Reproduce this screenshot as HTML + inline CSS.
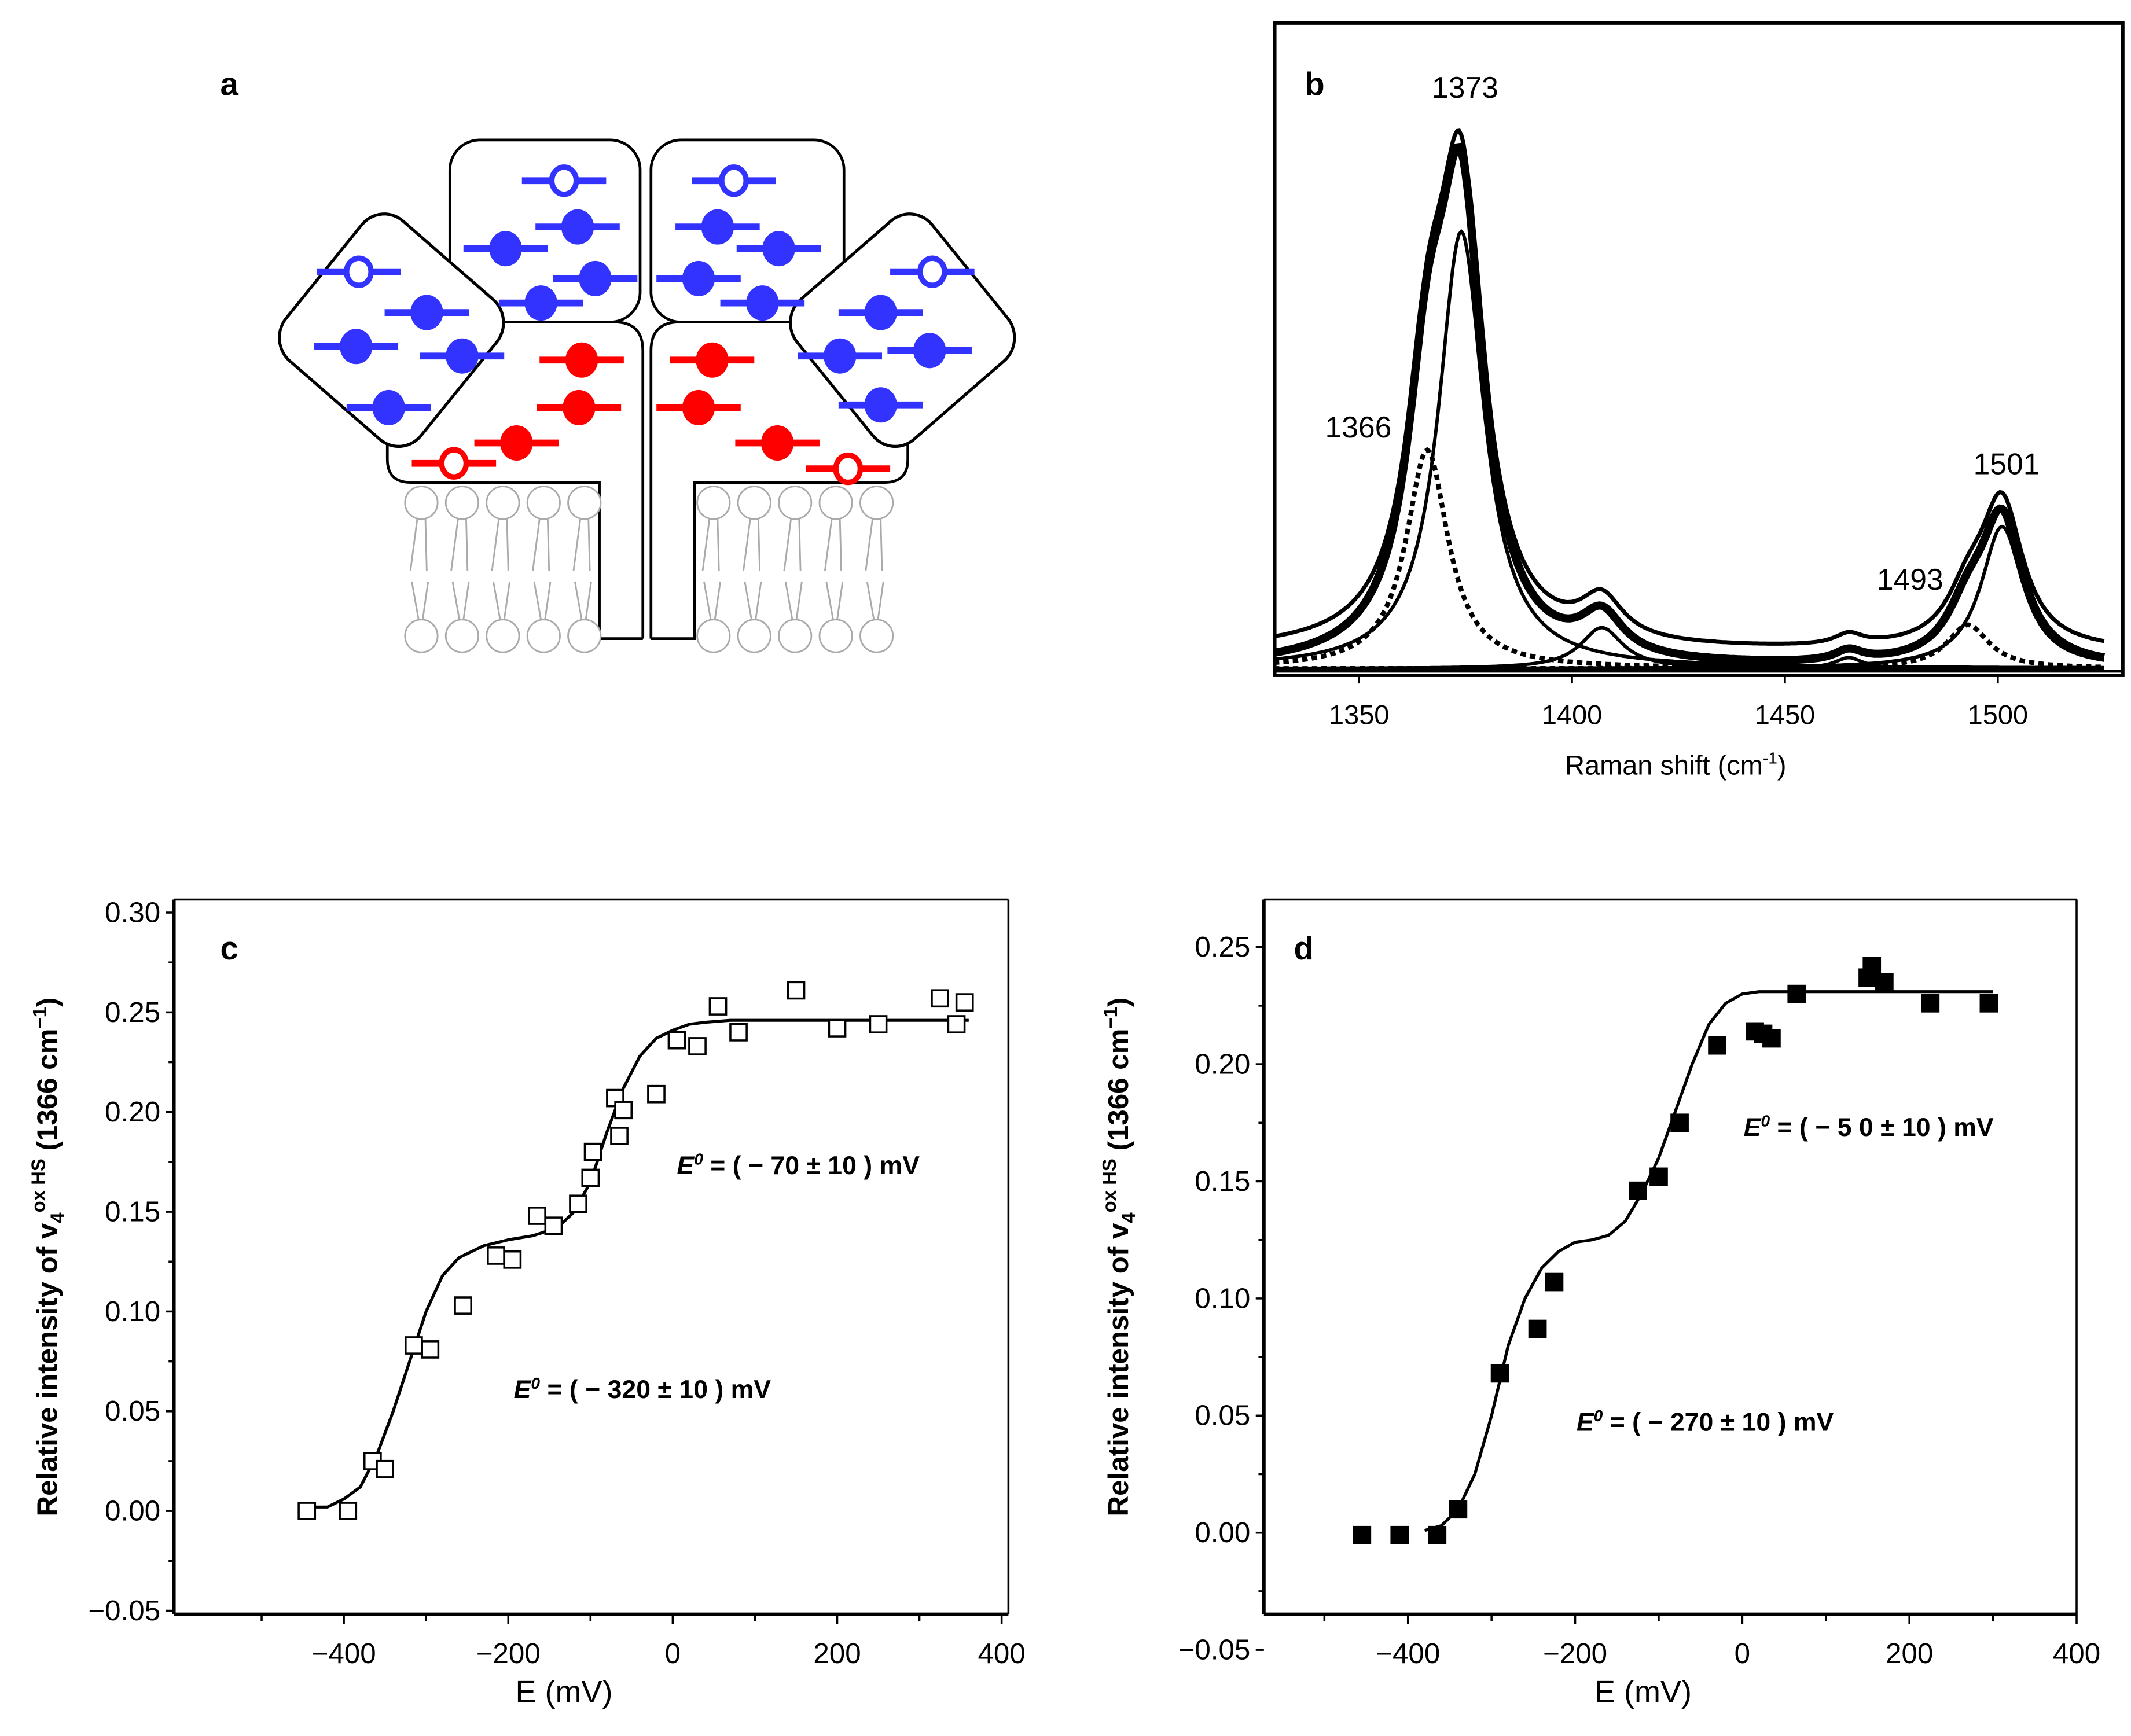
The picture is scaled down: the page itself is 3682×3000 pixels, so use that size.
<!DOCTYPE html>
<html><head><meta charset="utf-8"><style>
html,body{margin:0;padding:0;background:#fff}
svg{display:block}
text{font-family:"Liberation Sans",Arial,sans-serif}
</style></head><body>
<svg id="fig" width="3682" height="3000" viewBox="0 0 1568 1277.6" xmlns="http://www.w3.org/2000/svg">
<rect width="1568" height="1278" fill="#fff"/>
<g id="pa">
<text x="162" y="70" font-family="Liberation Serif" font-weight="bold" font-size="24">a</text>
<g fill="none" stroke="#000" stroke-width="2">
<path d="M473,470 L473,258 Q473,237 452,237 L376,237 M298,318 L285,318 L285,338 Q285,355 302,355 L441,355 L441,470 L473,470"/>
<path d="M479,470 L479,258 Q479,237 500,237 L576,237 M654,318 L668,318 L668,338 Q668,355 651,355 L511,355 L511,470 L479,470"/>
<rect x="331" y="103" width="140" height="134" rx="22" fill="#fff"/>
<rect x="479" y="103" width="142" height="134" rx="22" fill="#fff"/>
<rect x="-60" y="-60" width="120" height="120" rx="20" transform="translate(288,243) scale(1.08,1.12) rotate(40)" fill="#fff"/>
<rect x="-60" y="-60" width="120" height="120" rx="20" transform="translate(664,243) scale(1.08,1.12) rotate(-40)" fill="#fff"/>
</g>
<g id="lipids" stroke="#aaa" fill="#fff" stroke-width="1.2"></g>
<g id="hemes"></g>
</g>
<g id="pb">
<rect x="938" y="17" width="624" height="480" fill="none" stroke="#000" stroke-width="2.5"/>
<text x="960" y="70" font-family="Liberation Serif" font-weight="bold" font-size="24">b</text>
<g id="bplot"></g>
<text x="1233" y="570" text-anchor="middle" font-size="20">Raman shift (cm<tspan dy="-8" font-size="12">-1</tspan><tspan dy="8">)</tspan></text>
</g>
<g id="pc"></g>
<g id="pd"></g>
</svg>
<script>
const NS="http://www.w3.org/2000/svg";
function mk(p,t,a){const e=document.createElementNS(NS,t);for(const k in a)e.setAttribute(k,a[k]);p.appendChild(e);return e;}

const hemeX=[415,425,372,438,398,540,528,573,514,561,264,314,262,340,286,686,648,618,684,648,428,426,380,334,524,514,572,624];
const hemeY=[133,167,183,205,223,133,167,183,205,223,200,230,255,262,300,200,230,262,258,298,265,300,326,341,265,300,326,345];
const hemeC=['b','b','b','b','b','b','b','b','b','b','b','b','b','b','b','b','b','b','b','b','r','r','r','r','r','r','r','r'];
const hemeOpen=[1,0,0,0,0,1,0,0,0,0,1,0,0,0,0,1,0,0,0,0,0,0,0,1,0,0,0,1];
const hg=document.getElementById('hemes');
hemeX.forEach((x,i)=>{const y=hemeY[i];const col=hemeC[i]=='b'?'#3333ff':'#ff0000';
 const g=mk(hg,'g',{});
 
 
 mk(g,'line',{x1:x-31,y1:y,x2:x+31,y2:y,stroke:col,'stroke-width':5});
 if(hemeOpen[i]) mk(g,'ellipse',{cx:x,cy:y,rx:9,ry:10,fill:'#fff',stroke:col,'stroke-width':4});
 else mk(g,'ellipse',{cx:x,cy:y,rx:12,ry:13,fill:col});
});
const lipX=[310,340,370,400,430,525,555,585,615,645];
const lg=document.getElementById('lipids');
lipX.forEach(x=>{mk(lg,'ellipse',{cx:x,cy:370,rx:12,ry:12});mk(lg,'ellipse',{cx:x,cy:468,rx:12,ry:12});
 mk(lg,'path',{d:`M${x-3},382 L${x-8},420 M${x+3},382 L${x+4},420 M${x-7},428 L${x-2},456 M${x+5},428 L${x+1},456`,fill:'none'});});

const bCenters=[1366,1374,1407,1493,1501,1465];
const bHeights=[0.40,0.80,0.075,0.08,0.26,0.02];
const bWidths=[6,6.5,6,6,6,4];
const bDotted=[1,0,0,1,0,0];
const bTicks=[1350,1400,1450,1500];
const bLabels=[['1373',1078,72],['1366',975,322],['1501',1452,349],['1493',1381,434]];
const bx=v=>1000+(v-1350)*470/150, by=v=>492-v*402;
const bp=document.getElementById('bplot');
function lor(x,c,h,w){return h*w*w/((x-c)*(x-c)+w*w);}
bCenters.forEach((c,i)=>{let d='';for(let x=1330;x<=1525;x+=0.5){d+=(d?'L':'M')+bx(x).toFixed(1)+','+by(lor(x,c,bHeights[i],bWidths[i])).toFixed(1);}
 const e=mk(bp,'path',{d,fill:'none',stroke:'#000','stroke-width':bDotted[i]?3.5:2.5,'stroke-dasharray':bDotted[i]?'4,3':'none'});
 });
[[0,6],[0.03,3]].forEach(([off,sw],k)=>{let d='';for(let x=1330;x<=1525;x+=0.5){let s=off;bCenters.forEach((c,i)=>s+=lor(x,c,bHeights[i],bWidths[i]));d+=(d?'L':'M')+bx(x).toFixed(1)+','+by(s).toFixed(1);}
 const e=mk(bp,'path',{d,fill:'none',stroke:'#000','stroke-width':sw});
 });
mk(bp,'line',{x1:938,y1:494,x2:1562,y2:494,stroke:'#000','stroke-width':2});
bTicks.forEach(t=>{mk(bp,'line',{x1:bx(t),y1:497,x2:bx(t),y2:503,stroke:'#000','stroke-width':1.5});
 const e=mk(bp,'text',{x:bx(t),y:533,'text-anchor':'middle','font-size':20});e.textContent=t;
 });
bLabels.forEach(([s,x,y])=>{const e=mk(bp,'text',{x:x,y:y,'text-anchor':s=='1373'?'middle':'start','font-size':22});e.textContent=s;
 });

const cX=[-445,-395,-365,-350,-315,-295,-255,-215,-195,-165,-145,-115,-100,-97,-70,-65,-60,-20,5,30,55,80,150,200,250,325,345,355];
const cY=[0,0,0.025,0.021,0.083,0.081,0.103,0.128,0.126,0.148,0.143,0.154,0.167,0.180,0.207,0.188,0.201,0.209,0.236,0.233,0.253,0.240,0.261,0.242,0.244,0.257,0.244,0.255];
const cFitX=[-440,-420,-400,-380,-360,-340,-320,-300,-280,-260,-230,-200,-170,-140,-120,-100,-80,-60,-40,-20,0,20,40,70,360];
const cFitY=[0.002,0.002,0.006,0.012,0.028,0.05,0.075,0.1,0.118,0.127,0.133,0.136,0.138,0.142,0.15,0.165,0.19,0.212,0.228,0.237,0.241,0.244,0.245,0.246,0.246];
const cYTicks=[-0.05,0,0.05,0.10,0.15,0.20,0.25,0.30];
const cXTicks=[-400,-200,0,200,400];
const dX=[-455,-410,-365,-340,-290,-245,-225,-125,-100,-75,-30,15,25,35,65,150,155,170,225,295];
const dY=[-0.001,-0.001,-0.001,0.01,0.068,0.087,0.107,0.146,0.152,0.175,0.208,0.214,0.213,0.211,0.230,0.237,0.242,0.235,0.226,0.226];
const dFitX=[-380,-360,-340,-320,-300,-280,-260,-240,-220,-200,-180,-160,-140,-120,-100,-80,-60,-40,-20,0,20,300];
const dFitY=[0.001,0.003,0.01,0.025,0.05,0.08,0.1,0.113,0.12,0.124,0.125,0.127,0.133,0.145,0.16,0.18,0.2,0.217,0.226,0.23,0.231,0.231];
const dYTicks=[-0.05,0,0.05,0.10,0.15,0.20,0.25];
const dXTicks=[-400,-200,0,200,400];

function panel(gid,cfg){
 const g=document.getElementById(gid);
 const {L,R,T,B,x0,xs,y0,ys}=cfg;
 const X=v=>x0+v*xs, Y=v=>y0-v*ys;
 mk(g,'line',{x1:L,y1:T,x2:L,y2:B,stroke:'#000','stroke-width':2.5});
 mk(g,'line',{x1:L,y1:B,x2:R,y2:B,stroke:'#000','stroke-width':2.5});
 mk(g,'line',{x1:L,y1:T,x2:R,y2:T,stroke:'#000','stroke-width':1.5});
 mk(g,'line',{x1:R,y1:T,x2:R,y2:B,stroke:'#000','stroke-width':1.5});
 cfg.yt.forEach((t,i)=>{const y=Y(t);mk(g,'line',{x1:L-6,y1:y,x2:L,y2:y,stroke:'#000','stroke-width':1.5});
  if(i<cfg.yt.length-1)mk(g,'line',{x1:L-4,y1:Y(t+0.025),x2:L,y2:Y(t+0.025),stroke:'#000','stroke-width':1.5});
  const e=mk(g,'text',{x:L-10,y:y+7,'text-anchor':'end','font-size':21});e.textContent=(t<0?'\u22120.05':t.toFixed(2));
  });
 cfg.xt.forEach((t,i)=>{const x=X(t);mk(g,'line',{x1:x,y1:B,x2:x,y2:B+7,stroke:'#000','stroke-width':1.5});
  if(X(t-100)>L)mk(g,'line',{x1:X(t-100),y1:B,x2:X(t-100),y2:B+5,stroke:'#000','stroke-width':1.5});
  const e=mk(g,'text',{x:x,y:B+36,'text-anchor':'middle','font-size':21});e.textContent=(t<0?'\u2212'+(-t):t);
  });
 let d='';cfg.fx.forEach((v,i)=>{d+=(i?'L':'M')+X(v).toFixed(1)+','+Y(cfg.fy[i]).toFixed(1);});
 const fit=mk(g,'path',{d,fill:'none',stroke:'#000','stroke-width':2.2,'stroke-linejoin':'round'});
 
 cfg.px.forEach((v,i)=>{const s=mk(g,'rect',{x:X(v)-6,y:Y(cfg.py[i])-6,width:12,height:12,fill:cfg.filled?'#000':'#fff',stroke:'#000','stroke-width':1.5});
  });
 const xt=mk(g,'text',{x:(L+R)/2-20,y:B+65,'text-anchor':'middle','font-size':23});xt.textContent='E (mV)';
 
 const yt=mk(g,'text',{x:0,y:0,'text-anchor':'middle','font-size':21,'font-weight':'bold',transform:`translate(${cfg.ylx},${(T+B)/2}) rotate(-90)`});
 yt.innerHTML='Relative intensity of v<tspan dy="5" font-size="14">4</tspan><tspan dy="-14" font-size="14">ox HS</tspan><tspan dy="9"> (1366 cm</tspan><tspan dy="-8" font-size="14">\u22121</tspan><tspan dy="8">)</tspan>';
 
 const lb=mk(g,'text',{x:cfg.lab[0],y:cfg.lab[1],'font-family':'Liberation Serif','font-weight':'bold','font-size':24});lb.textContent=cfg.lab[2];
 
 cfg.ann.forEach(([x,y,s])=>{const a=mk(g,'text',{x,y,'font-size':19,'font-weight':'bold'});
  a.innerHTML='<tspan font-style="italic">E</tspan><tspan dy="-7" font-size="12" font-style="italic">0</tspan><tspan dy="7"> = ( \u2212 '+s+' \u00b1 10 ) mV</tspan>';
  });
}
panel('pc',{L:128,R:742,T:662,B:1188,x0:495,xs:0.605,y0:1112,ys:1468,yt:cYTicks,xt:cXTicks,fx:cFitX,fy:cFitY,px:cX,py:cY,filled:false,ylx:42,lab:[162,706,'c'],ann:[[498,864,'70'],[378,1029,'320']]});
panel('pd',{L:930,R:1528,T:662,B:1188,x0:1282,xs:0.615,y0:1128,ys:1724,yt:dYTicks,xt:dXTicks,fx:dFitX,fy:dFitY,px:dX,py:dY,filled:true,ylx:830,lab:[952,706,'d'],ann:[[1283,836,'5 0'],[1160,1053,'270']]});
</script>
</body></html>
